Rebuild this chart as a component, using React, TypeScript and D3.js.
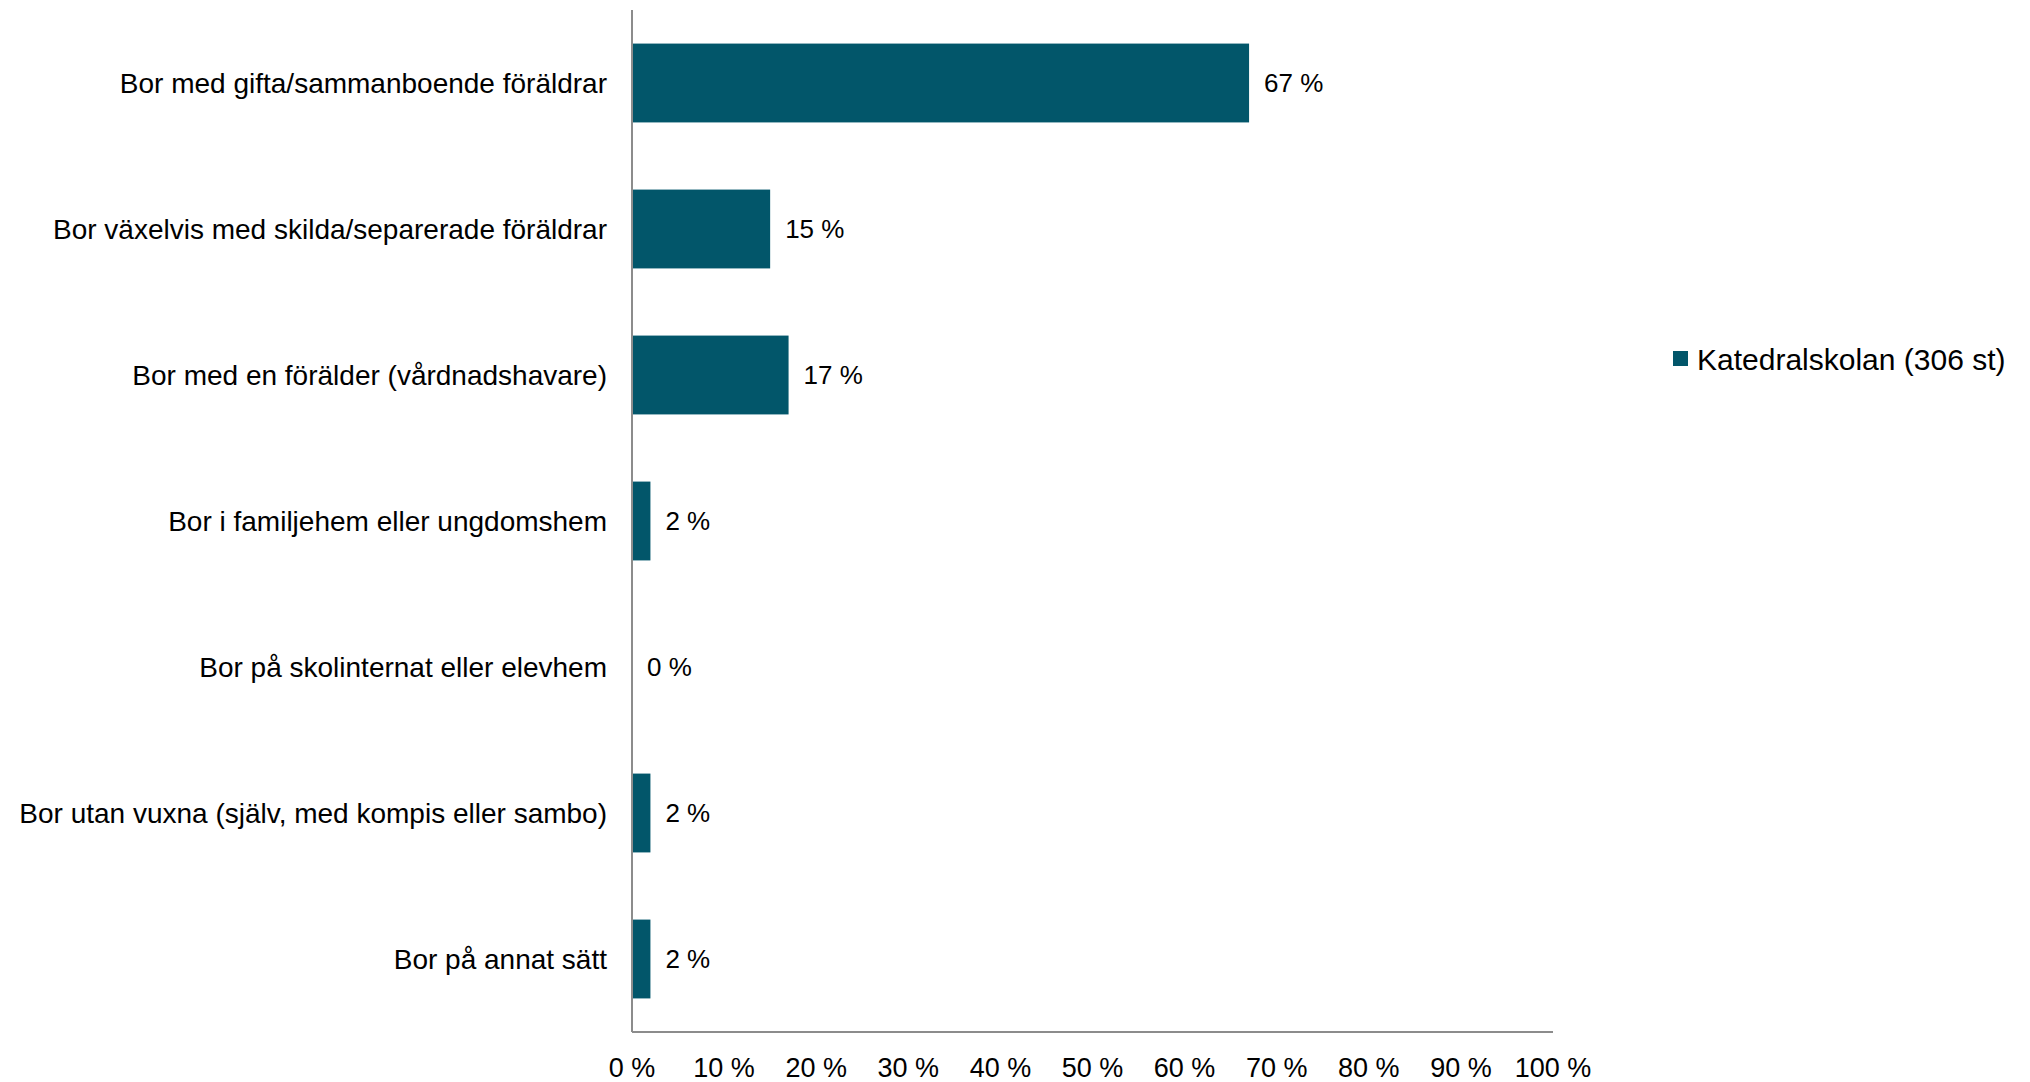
import * as d3 from "d3";

const categories = [
  "Bor med gifta/sammanboende föräldrar",
  "Bor växelvis med skilda/separerade föräldrar",
  "Bor med en förälder (vårdnadshavare)",
  "Bor i familjehem eller ungdomshem",
  "Bor på skolinternat eller elevhem",
  "Bor utan vuxna (själv, med kompis eller sambo)",
  "Bor på annat sätt",
];
const values = [67, 15, 17, 2, 0, 2, 2];
const ticks = [0, 10, 20, 30, 40, 50, 60, 70, 80, 90, 100];
const seriesName = "Katedralskolan (306 st)";

const W = 2030;
const H = 1082;
const margin = { top: 10, left: 632, right: 477, bottom: 50 };
const barColor = "#02566a";
const axisColor = "#8c8c8c";
const font = "'Liberation Sans', Arial, sans-serif";

export default function App() {
  const x = d3
    .scaleLinear()
    .domain([0, 100])
    .range([margin.left, W - margin.right]);
  const y = d3
    .scaleBand()
    .domain(categories)
    .range([margin.top, H - margin.bottom])
    .paddingInner(0.46)
    .paddingOuter(0.23);
  const axisY = H - margin.bottom;

  return (
    <svg
      width={W}
      height={H}
      style={{ position: "absolute", left: 0, top: 0, background: "#fff" }}
      fontFamily={font}
    >
      {categories.map((c, i) => {
        const yy = y(c) ?? 0;
        const v = values[i];
        return (
          <g key={c}>
            <rect
              x={x(0)}
              y={yy}
              width={x(v) - x(0)}
              height={y.bandwidth()}
              fill={barColor}
            />
            <text
              x={x(0) - 25}
              y={yy + y.bandwidth() / 2}
              dy="0.35em"
              textAnchor="end"
              fontSize={28}
              fill="#000"
            >
              {c}
            </text>
            <text
              x={x(v) + 15}
              y={yy + y.bandwidth() / 2}
              dy="0.35em"
              fontSize={26}
              fill="#000"
            >
              {`${v} %`}
            </text>
          </g>
        );
      })}
      <line x1={x(0)} x2={x(0)} y1={margin.top} y2={axisY} stroke={axisColor} strokeWidth={2} />
      <line x1={x(0)} x2={x(100)} y1={axisY} y2={axisY} stroke={axisColor} strokeWidth={2} />
      {ticks.map((t) => (
        <text
          key={t}
          x={x(t)}
          y={axisY + 36}
          dy="0.35em"
          textAnchor="middle"
          fontSize={27}
          fill="#000"
        >
          {`${t} %`}
        </text>
      ))}
      <g transform="translate(1673,351)">
        <rect x={0} y={0} width={15} height={15} fill={barColor} />
        <text x={24} y={8} dy="0.35em" fontSize={30} fill="#000">
          {seriesName}
        </text>
      </g>
    </svg>
  );
}
